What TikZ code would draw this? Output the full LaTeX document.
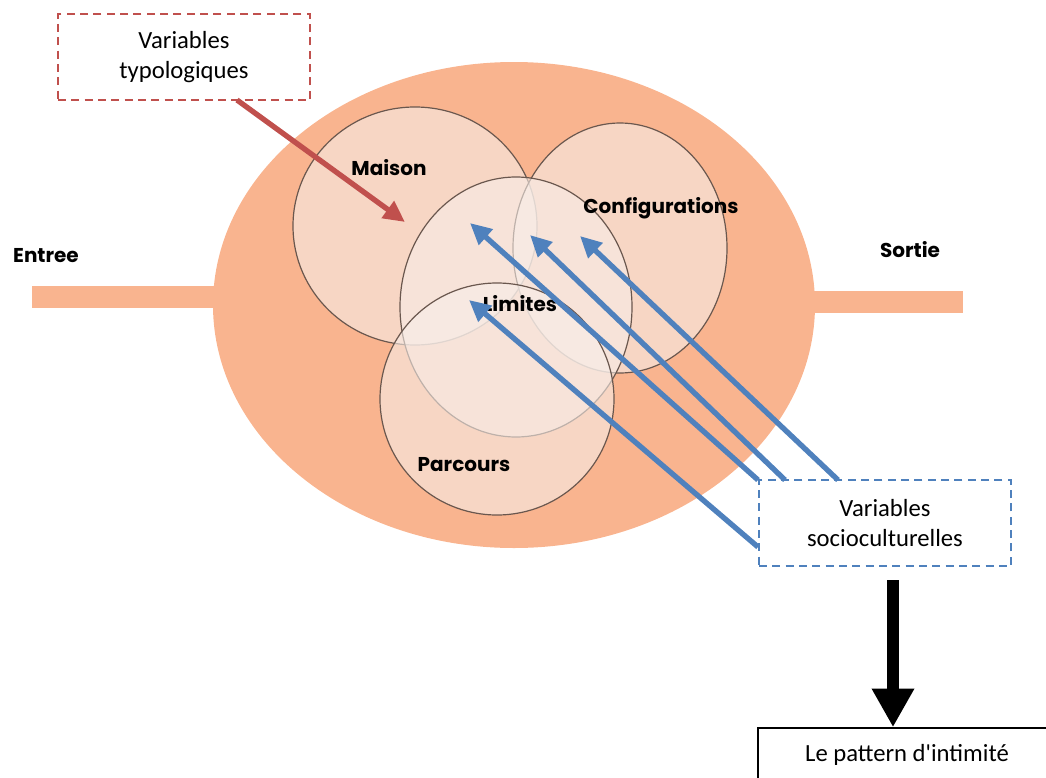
\documentclass[tikz,border=0pt]{standalone}
\usepackage{fontspec}
\setmainfont{Carlito}
\newfontfamily\zonefont{Poppins}
\usetikzlibrary{arrows.meta}

\definecolor{saumon}{HTML}{F9B48F}
\definecolor{rose}{HTML}{F7EDE8}
\definecolor{trait}{HTML}{6A574E}
\definecolor{rouge}{HTML}{C0504D}
\definecolor{bleu}{HTML}{4F81BD}

\tikzset{
    zone/.style={draw=trait,line width=0.9pt,fill=rose,fill opacity=0.6,draw opacity=1},
    zonelabel/.style={font=\zonefont\bfseries\fontsize{15}{17}\selectfont,inner sep=0pt},
    varbox/.style={dash pattern=on 6pt off 4pt,line width=1.6pt,minimum width=189pt,
        minimum height=64.5pt,align=center,inner sep=0pt,
        font=\fontsize{18.5}{22.5}\selectfont},
    fleche/.style={line width=4pt,-{Triangle[length=16pt,width=15pt]}}
}

\begin{document}
\begin{tikzpicture}[x=0.75pt,y=-0.75pt]
    \clip (0,0) rectangle (1046,778);
    %Ellipse et barres
    \fill[saumon] (514,305) ellipse [x radius=301, y radius=243];
    \fill[saumon] (32,286) rectangle (215,308);
    \fill[saumon] (810,291) rectangle (963,313);
    \node[zonelabel] (entree) at (46,256) {Entree};
    \node[zonelabel] (sortie) at (910,250) {Sortie};

    %Cercles
    \draw[zone] (415,226) ellipse [x radius=122, y radius=119];
    \draw[zone] (620,248) ellipse [x radius=107, y radius=125];
    \draw[zone] (516,307) ellipse [x radius=116, y radius=130];
    \draw[zone] (497,399) ellipse [x radius=117, y radius=116];
    \node[zonelabel] (maison) at (389,168) {Maison};
    \node[zonelabel] (config) at (661,208) {Configurations};
    \node[zonelabel] (limites) at (520,304) {Limites};
    \node[zonelabel] (parcours) at (464,465) {Parcours};

    %Variables
    \node[varbox,draw=rouge] (typo) at (184,57) {Variables\\typologiques};
    \node[varbox,draw=bleu] (socio) at (885,523) {Variables\\socioculturelles};
    \node[draw,line width=1.2pt,minimum width=223.5pt,minimum height=40.5pt,
        font=\fontsize{18.5}{22.5}\selectfont] (pattern) at (907,755) {Le pattern d\textquotesingle intimit\'e};

    \coordinate (rA) at (237,100);
    \coordinate (rB) at (405,222);
    \draw[fleche,rouge] (rA) -- (rB);

    \coordinate (sA) at (758,480);
    \coordinate (sB) at (785,480);
    \coordinate (sC) at (838,480);
    \coordinate (sD) at (758,547);
    \coordinate (tA) at (470,223);
    \coordinate (tB) at (530,235);
    \coordinate (tC) at (580,236);
    \coordinate (tD) at (469,300);
    \draw[fleche,bleu] (sA) -- (tA);
    \draw[fleche,bleu] (sB) -- (tB);
    \draw[fleche,bleu] (sC) -- (tC);
    \draw[fleche,bleu] (sD) -- (tD);

    \coordinate (nA) at (893,580);
    \draw[line width=9pt,-{Triangle[length=29pt,width=30pt]}] (nA) -- (nA |- pattern.north);
\end{tikzpicture}
\end{document}
